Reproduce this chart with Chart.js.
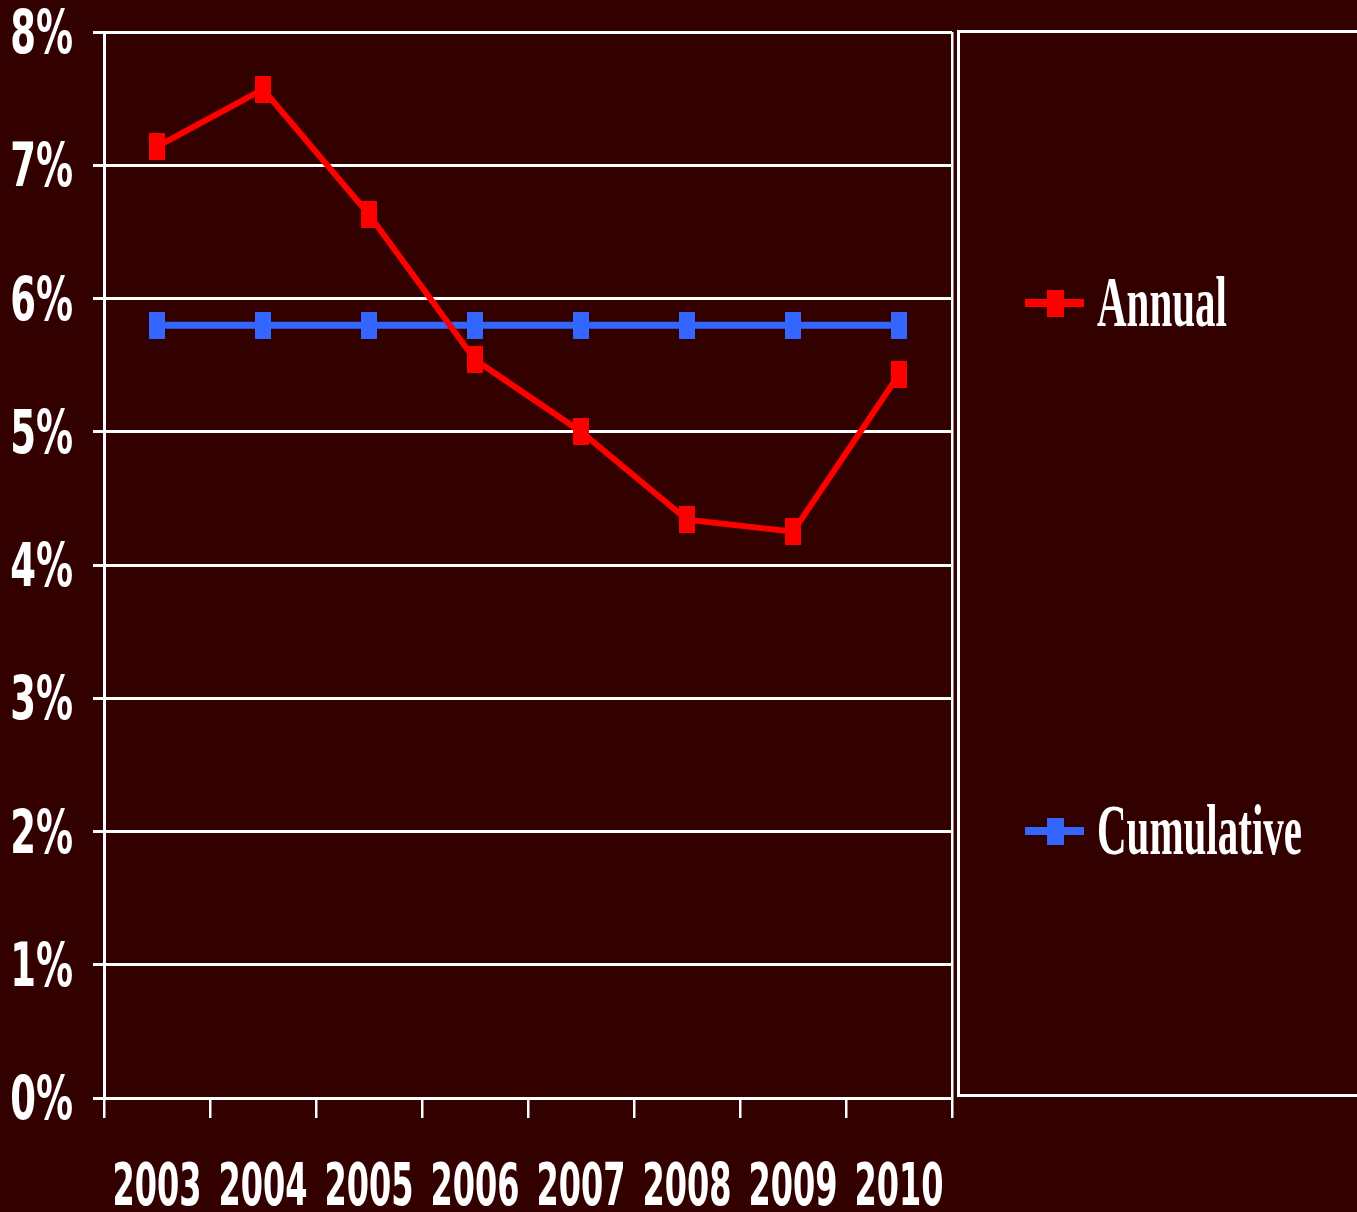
<!DOCTYPE html>
<html>
<head>
<meta charset="utf-8">
<script src="https://cdn.jsdelivr.net/npm/chart.js@4.4.0/dist/chart.umd.min.js"></script>
<style>
    html, body { margin: 0; padding: 0; background: #330000; overflow: hidden; }
    #wrap { position: relative; width: 1357px; height: 1212px; }
    #legendBox {
        position: absolute; left: 957px; top: 30px; width: 420px; height: 1067px;
        border: 3px solid #fff; border-right: none; box-sizing: border-box;
    }
    .lg-line { position: absolute; left: 1025px; width: 59px; height: 8px; }
    .lg-mark { position: absolute; left: 1047px; width: 17px; height: 27px; }
    .lg-text {
        position: absolute; left: 1097px; height: 41px; line-height: 41px;
        font: bold 41px "Liberation Serif", serif; color: #fff; white-space: nowrap;
        transform: scaleY(1.75); transform-origin: left center;
    }
</style>
</head>
<body>
<div id="wrap">
    <canvas id="chart"></canvas>
    <div id="legendBox"></div>
    <div class="lg-line" style="top:299px;background:#ff0000"></div>
    <div class="lg-mark" style="top:290px;background:#ff0000"></div>
    <div class="lg-text" style="top:275px">Annual</div>
    <div class="lg-line" style="top:827px;background:#3366ff"></div>
    <div class="lg-mark" style="top:818px;background:#3366ff"></div>
    <div class="lg-text" style="top:803px">Cumulative</div>
</div>
<script>
// données
const years = ['2003', '2004', '2005', '2006', '2007', '2008', '2009', '2010'];
const annualRates = [7.14, 7.57, 6.63, 5.54, 5.0, 4.34, 4.25, 5.43];
const cumulativeRates = [5.8, 5.8, 5.8, 5.8, 5.8, 5.8, 5.8, 5.8];
const percentTicks = [0, 1, 2, 3, 4, 5, 6, 7, 8];

// marqueurs rectangulaires (plus hauts que larges)
function markerCanvas(color) {
    const c = document.createElement('canvas');
    c.width = 16; c.height = 27;
    const g = c.getContext('2d');
    g.fillStyle = color;
    g.fillRect(0, 0, 16, 27);
    return c;
}

// étiquettes étirées verticalement, placées avec les échelles du graphique
const tickLabels = {
    id: 'tickLabels',
    afterDraw(chart) {
        const { ctx, scales: { x, y } } = chart;
        ctx.save();
        ctx.fillStyle = '#fff';
        ctx.textBaseline = 'alphabetic';

        ctx.font = 'bold 32px "DejaVu Sans"';
        ctx.textAlign = 'center';
        years.forEach((yr, i) => {
            ctx.save();
            ctx.translate(x.getPixelForValue(i), 1205);
            ctx.scale(1, 1.86);
            ctx.fillText(yr, 0, 0);
            ctx.restore();
        });

        ctx.font = 'bold 37px "DejaVu Sans"';
        ctx.textAlign = 'right';
        percentTicks.forEach(v => {
            ctx.save();
            ctx.translate(73, y.getPixelForValue(v) + 21);
            ctx.scale(1, 1.62);
            ctx.fillText(v + '%', 0, 0);
            ctx.restore();
        });
        ctx.restore();
    }
};

new Chart(document.getElementById('chart'), {
    type: 'line',
    data: {
        labels: years,
        datasets: [
            {
                label: 'Annual',
                data: annualRates,
                borderColor: '#ff0000',
                backgroundColor: '#ff0000',
                borderWidth: 6,
                pointStyle: markerCanvas('#ff0000'),
                tension: 0,
            },
            {
                label: 'Cumulative',
                data: cumulativeRates,
                borderColor: '#3366ff',
                backgroundColor: '#3366ff',
                borderWidth: 7,
                pointStyle: markerCanvas('#3366ff'),
                tension: 0,
            },
        ],
    },
    options: {
        responsive: true,
        maintainAspectRatio: false,
        animation: false,
        layout: { padding: { top: 32, right: 405, left: 0, bottom: 0 } },
        plugins: { legend: { display: false }, tooltip: { enabled: false } },
        scales: {
            x: {
                offset: true,
                ticks: { display: false },
                grid: {
                    offset: true,
                    color: c => (c.index === undefined ? '#ffffff' : 'rgba(0,0,0,0)'),
                    tickColor: '#ffffff',
                    tickLength: 20,
                    lineWidth: 2.5,
                    tickWidth: 2.5,
                },
                border: { color: '#ffffff', width: 3 },
                afterFit: s => { s.height = 114; },
            },
            y: {
                min: 0,
                max: 8,
                ticks: { stepSize: 1, display: false },
                grid: { color: '#ffffff', lineWidth: 3, tickLength: 11, tickColor: '#ffffff', tickWidth: 3 },
                border: { color: '#ffffff', width: 3 },
                afterFit: s => { s.width = 104; },
            },
        },
    },
    plugins: [tickLabels],
});
</script>
</body>
</html>
